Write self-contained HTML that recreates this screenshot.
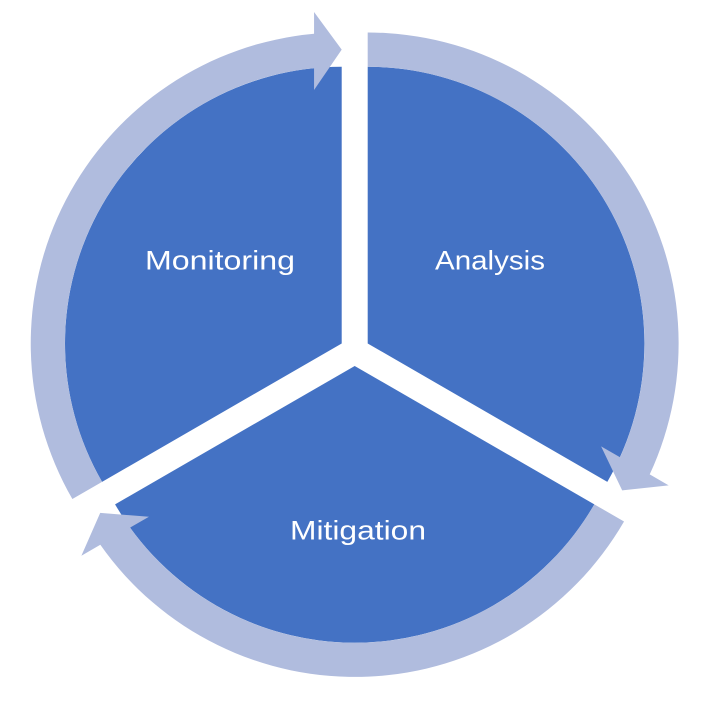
<!DOCTYPE html>
<html>
<head>
<meta charset="utf-8">
<style>
  html,body{margin:0;padding:0;background:#ffffff;}
  svg{display:block;}
  text{font-family:"Liberation Sans",sans-serif;fill:#ffffff;font-size:27px;}
</style>
</head>
<body>
<svg width="709" height="709" viewBox="0 0 709 709" xmlns="http://www.w3.org/2000/svg">
  <rect width="709" height="709" fill="#ffffff"/>
  <!-- Pie slices -->
  <path d="M341.7,343.5 L102.07,481.85 A276.7,276.7 0 0 1 341.7,66.8 Z" fill="#4472C4"/>
  <path d="M367.7,343.5 L367.7,66.8 A276.7,276.7 0 0 1 607.33,481.85 Z" fill="#4472C4"/>
  <path d="M354.7,366 L594.33,504.35 A276.7,276.7 0 0 1 115.07,504.35 Z" fill="#4472C4"/>

  <!-- Circular arrows -->
  <!-- Monitoring arrow -->
  <path d="M72.37,499.0 A311,311 0 0 1 314.05,33.8 L314.05,11.95 L341.7,49.65 L314.05,89.95 L314.05,68.1 A276.7,276.7 0 0 0 102.07,481.85 Z" fill="#B0BCDE"/>
  <!-- Analysis arrow -->
  <path d="M367.7,32.5 A311,311 0 0 1 649.73,474.4 L668.66,485.32 L622.18,490.43 L601.1,446.32 L620.03,457.25 A276.7,276.7 0 0 0 367.7,66.8 Z" fill="#B0BCDE"/>
  <!-- Mitigation arrow -->
  <path d="M624.03,521.5 A311,311 0 0 1 100.32,544.8 L81.39,555.72 L100.22,512.93 L148.95,516.72 L130.02,527.65 A276.7,276.7 0 0 0 594.33,504.35 Z" fill="#B0BCDE"/>

  <!-- Labels -->
  <text x="145" y="269.3" textLength="150" lengthAdjust="spacingAndGlyphs">Monitoring</text>
  <text x="435" y="269.3" textLength="110" lengthAdjust="spacingAndGlyphs">Analysis</text>
  <text x="290" y="539.3" textLength="136" lengthAdjust="spacingAndGlyphs">Mitigation</text>
</svg>
</body>
</html>
